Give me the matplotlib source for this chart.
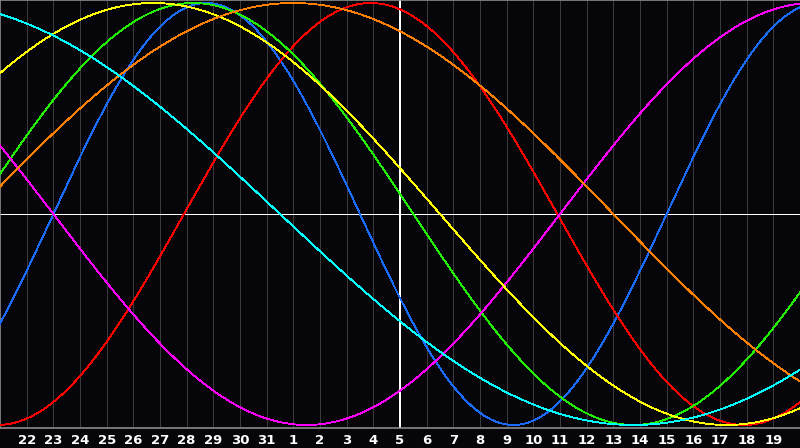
import numpy as np
import matplotlib
matplotlib.use("Agg")
import matplotlib.pyplot as plt

# days shown along the bottom (first grid line = 22, window = 30 days)
day_labels = ['22', '23', '24', '25', '26', '27', '28', '29', '30', '31',
              '1', '2', '3', '4', '5', '6', '7', '8', '9', '10',
              '11', '12', '13', '14', '15', '16', '17', '18', '19']
today_index = 15   # the "5" column, white marker line
n_days = 30

# cycles: period in days and day-in-cycle at the left edge of the chart
periods = [23, 28, 33, 38, 43, 48, 53]
start_phase = [21.0, 21.1, 1.0, 17.0, 5.0, 1.0, 16.0]
colors = ['#1a6cff', '#ff0000', '#22ee00', '#ff00ff', '#ffff00', '#ff8000', '#00ffff']

bg = '#060509'
fig = plt.figure(figsize=(8, 4.48), dpi=100, facecolor=bg)
ax = fig.add_axes([0, 20 / 448, 1, 428 / 448])
ax.set_facecolor(bg)

amp = 214 / 211
ax.set_xlim(0, n_days)
ax.set_ylim(-amp, amp)

# day grid
for i in range(1, n_days):
    ax.axvline(i, color='#3a3a3a', lw=0.5, antialiased=False, zorder=1)

t = np.linspace(0, n_days, 1601)
for p, c0, col in zip(periods, start_phase, colors):
    ax.plot(t, np.sin(2 * np.pi * (t + c0) / p), color=col, lw=0.6,
            antialiased=False, zorder=3)

ax.axhline(0, color='white', lw=0.6, antialiased=False, zorder=2)
ax.axvline(today_index, color='white', lw=1.3, antialiased=False, zorder=2)

ax.spines['right'].set_visible(False)
for s in ['left', 'top', 'bottom']:
    ax.spines[s].set_color('#8c8c8c')
    ax.spines[s].set_linewidth(1.2)

ax.set_yticks([])
ax.set_xticks(range(1, n_days))
ax.set_xticklabels(day_labels, color='white', fontsize=9.5, fontweight='bold',
                   family='DejaVu Sans')
ax.tick_params(axis='x', length=0, pad=4)

fig.savefig('out.png', dpi=100, facecolor=bg)
